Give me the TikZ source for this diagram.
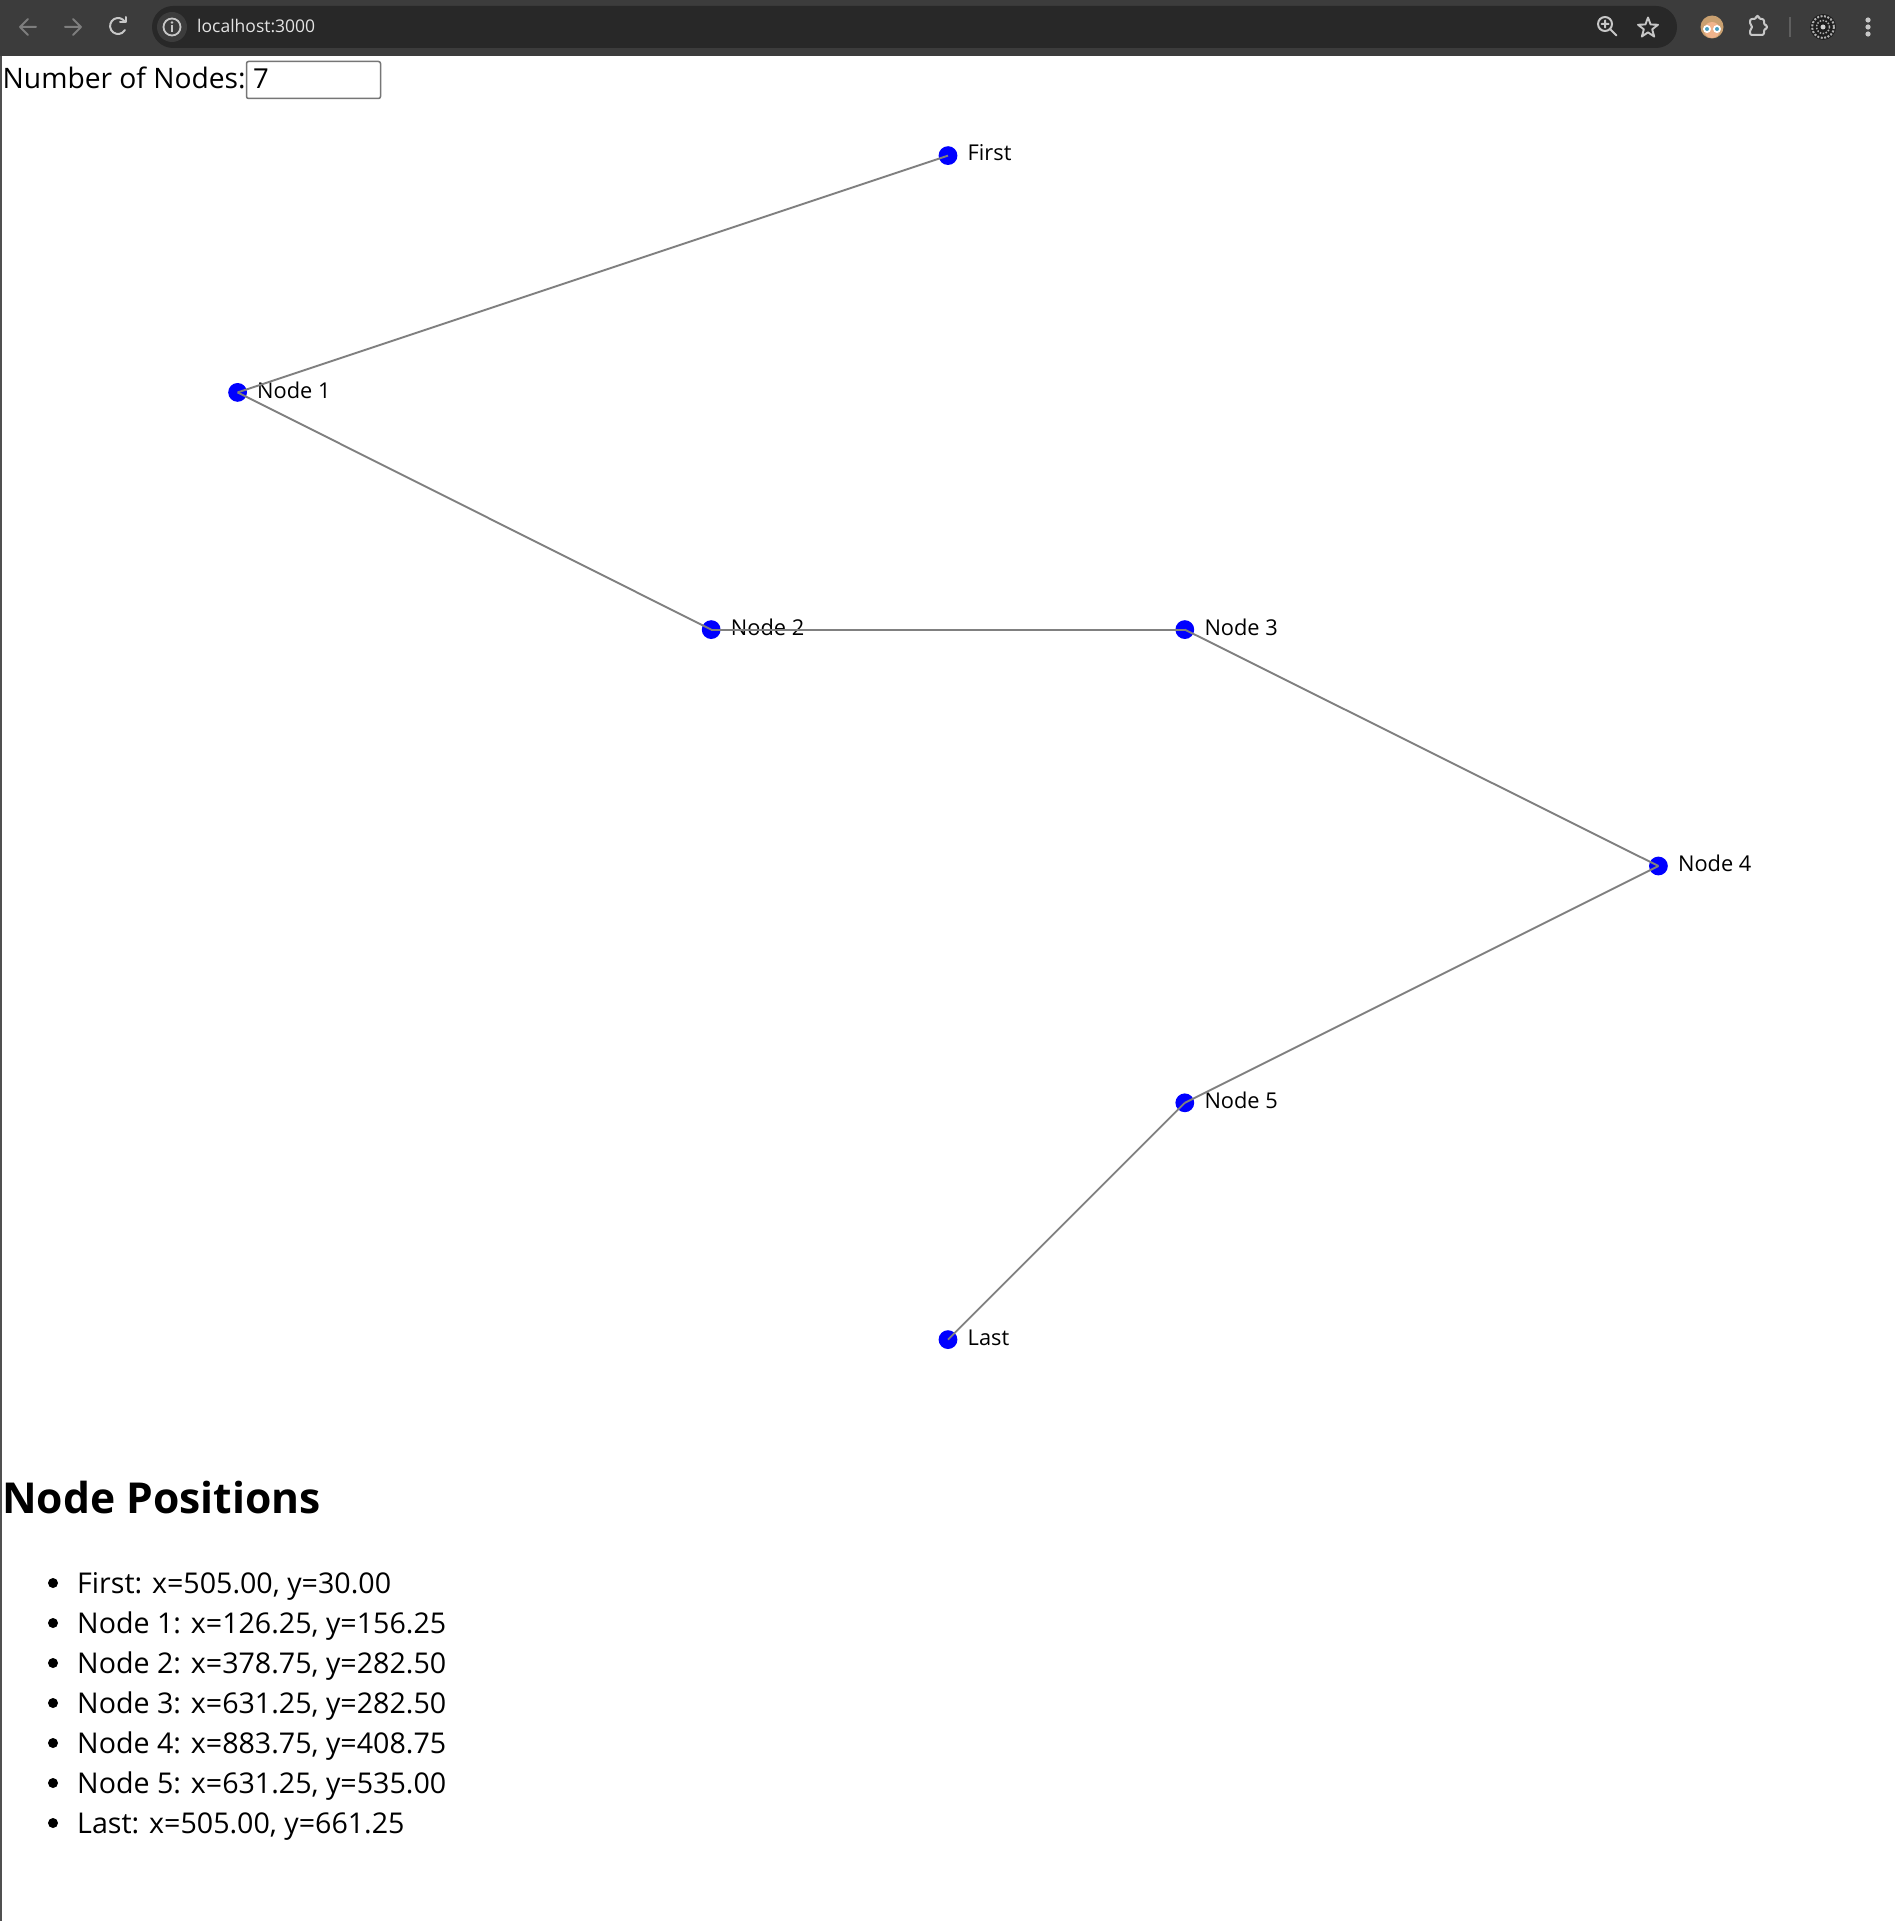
\documentclass[tikz,border=0pt]{standalone}
\usepackage{fontspec}
\setmainfont{Open Sans}
\usetikzlibrary{shapes.geometric}
\newcommand{\pxfont}[1]{\fontsize{#1}{#1}\selectfont}
\definecolor{chromebar}{HTML}{3C3C3C}
\definecolor{pillbg}{HTML}{282828}
\definecolor{iconfg}{HTML}{C7C7C7}
\definecolor{icondim}{HTML}{7E7E7E}
\definecolor{edgegray}{HTML}{808080}
\definecolor{nodeblue}{HTML}{0000FF}
\definecolor{hair}{HTML}{C9A070}
\definecolor{skin}{HTML}{F0B48C}
\definecolor{eyeblue}{HTML}{4A9FC0}
\definecolor{sepgray}{HTML}{5F5F5F}
\definecolor{darkdisc}{HTML}{1E1E1E}
\definecolor{discgray}{HTML}{B0B0B0}
\definecolor{disclight}{HTML}{D0D0D0}
\definecolor{bordergray}{HTML}{505050}
\definecolor{inputgray}{HTML}{767676}
\definecolor{urltext}{HTML}{E3E3E3}
\tikzset{
  graphnode/.style={circle,fill=nodeblue,inner sep=0pt,minimum size=18.8pt},
  nodelabel/.style={anchor=base west,inner sep=0pt,font=\pxfont{21.8}},
  link/.style={draw=edgegray,line width=1.9pt},
  listtext/.style={anchor=base west,inner sep=0pt,font=\pxfont{28.6}},
  bulletdot/.style={circle,fill=black,inner sep=0pt,minimum size=10pt},
  icon/.style={draw=iconfg,line width=2pt,line cap=round,line join=round},
}
\begin{document}
\begin{tikzpicture}[x=1pt,y=-1pt]
\useasboundingbox (0,0) rectangle (1895,1921);
\fill[white] (0,0) rectangle (1895,1921);
% browser chrome
\fill[chromebar] (0,0) rectangle (1895,56);
\fill[pillbg,rounded corners=21pt] (152,6) rectangle (1677,48);
\draw[icon,draw=icondim] (20,27) -- (36,27) (28,19) -- (20,27) -- (28,35);
\draw[icon,draw=icondim] (65,27) -- (81,27) (73,19) -- (81,27) -- (73,35);
\draw[icon] (125,22) arc[start angle=-30,end angle=-330,radius=8];
\draw[icon] (125.5,17) -- (125.5,22.5) -- (120,22.5);
\fill[chromebar] (172,27) circle[radius=15];
\draw[iconfg,line width=1.8pt] (172,27) circle[radius=8.5];
\fill[iconfg] (172,22.5) circle[radius=1.3];
\draw[iconfg,line width=1.8pt] (172,25.5) -- (172,32);
\node[anchor=base west,inner sep=0pt,text=urltext,font=\pxfont{17.5}] (url) at (197,33) {localhost:3000};
\draw[icon] (1605,24) circle[radius=7];
\draw[icon] (1610,29) -- (1616.5,35.5) (1605,20.5) -- (1605,27.5) (1601.5,24) -- (1608.5,24);
\node[star,star points=5,star point ratio=2.4,draw=iconfg,line width=1.9pt,line join=round,minimum size=21pt,inner sep=0pt] (star) at (1648,28) {};
\fill[hair] (1712,27) circle[radius=11.5];
\fill[skin] (1712,30) circle[radius=8];
\fill[white] (1707,29) circle[radius=4] (1717,29) circle[radius=4];
\fill[eyeblue] (1707,29) circle[radius=2] (1717,29) circle[radius=2];
\draw[icon,rounded corners=2pt] (1750,19) -- (1756,19) -- (1756,16) -- (1759,16) -- (1759,19) -- (1764,19) -- (1764,25) -- (1767,25) -- (1767,29) -- (1764,29) -- (1764,35) -- (1750,35) -- (1750,29) -- (1753,27) -- (1750,25) -- cycle;
\draw[sepgray,line width=1.6pt] (1790,17) -- (1790,37);
\fill[darkdisc] (1823,27) circle[radius=13];
\draw[discgray,line width=2pt,dash pattern=on 2pt off 1.5pt] (1823,27) circle[radius=11];
\draw[discgray,line width=1.5pt,dash pattern=on 1.5pt off 1.5pt] (1823,27) circle[radius=6.5];
\fill[disclight] (1823,27) circle[radius=2.5];
\fill[iconfg] (1868,20) circle[radius=2.6] (1868,27) circle[radius=2.6] (1868,34) circle[radius=2.6];
% page border
\draw[bordergray,line width=2pt] (1,56) -- (1,1921);
% input row
\node[anchor=base west,inner sep=0pt,font=\pxfont{28.2}] (lbl) at (2.5,89) {Number of Nodes:};
\draw[inputgray,line width=1.5pt,rounded corners=2pt] (246.5,61.5) rectangle (380.5,98.5);
\node[anchor=base west,inner sep=0pt,font=\pxfont{27.5}] (val) at (253,89) {7};
% graph nodes
\node[graphnode] (nF) at (948,155.6) {};
\node[graphnode] (n1) at (237.6,392.4) {};
\node[graphnode] (n2) at (711.2,629.6) {};
\node[graphnode] (n3) at (1184.8,629.6) {};
\node[graphnode] (n4) at (1658.4,866) {};
\node[graphnode] (n5) at (1184.8,1102.8) {};
\node[graphnode] (nL) at (948,1339.6) {};
\node[nodelabel] (lF) at (967.5,161) {First};
\node[nodelabel] (l1) at (257,398) {Node 1};
\node[nodelabel] (l2) at (730.7,635) {Node 2};
\node[nodelabel] (l3) at (1204.3,635) {Node 3};
\node[nodelabel] (l4) at (1677.9,871.5) {Node 4};
\node[nodelabel] (l5) at (1204.3,1108.3) {Node 5};
\node[nodelabel] (lL) at (967.5,1345) {Last};
% edges (drawn over nodes)
\draw[link] (nF.center) -- (n1.center);
\draw[link] (n1.center) -- (n2.center);
\draw[link] (n2.center) -- (n3.center);
\draw[link] (n3.center) -- (n4.center);
\draw[link] (n4.center) -- (n5.center);
\draw[link] (n5.center) -- (nL.center);
% positions list
\node[anchor=base west,inner sep=0pt,font=\pxfont{42.6}\bfseries] (head) at (2,1513) {Node Positions};
\foreach \i/\t in {0/{First: x=505.00, y=30.00},1/{Node 1: x=126.25, y=156.25},2/{Node 2: x=378.75, y=282.50},3/{Node 3: x=631.25, y=282.50},4/{Node 4: x=883.75, y=408.75},5/{Node 5: x=631.25, y=535.00},6/{Last: x=505.00, y=661.25}}{
  \node[bulletdot] (b\i) at (53,1583+40*\i) {};
  \node[listtext] (t\i) at (77,1593+40*\i) {\t};
}
\end{tikzpicture}
\end{document}
